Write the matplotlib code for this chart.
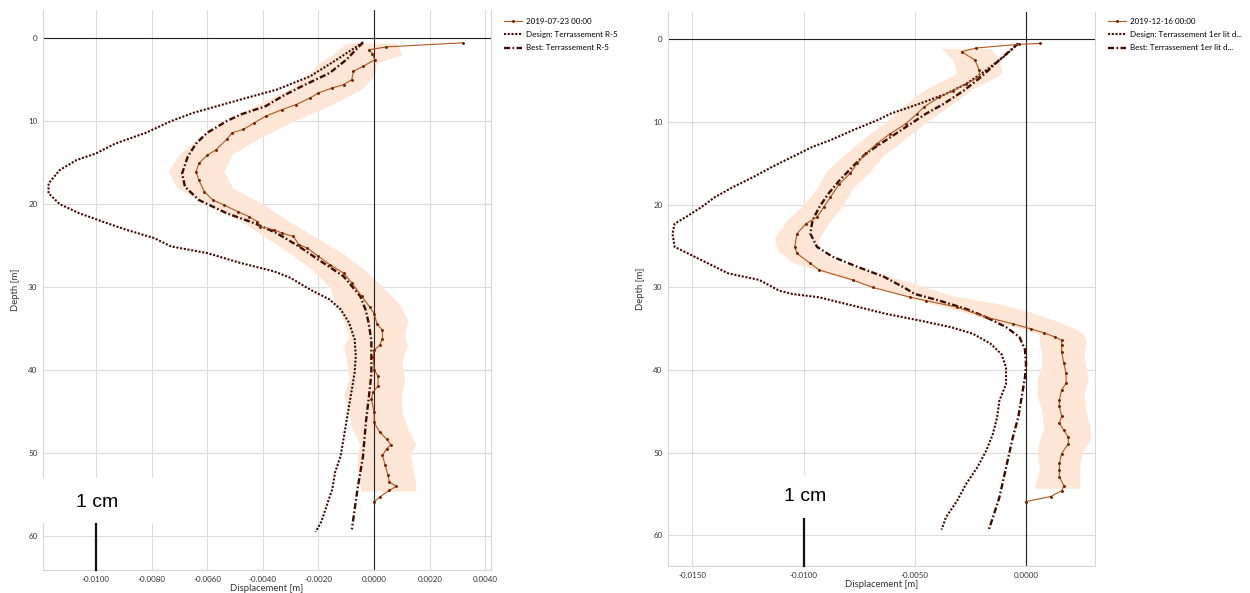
import numpy as np
import matplotlib.pyplot as plt
from matplotlib.patches import Rectangle

# ---- left panel data (depth in m, displacement in m) ----
L_meas_depth = [0.56, 1.05, 1.4, 1.9, 2.6, 3.4, 4.0, 5.0, 5.6, 6.0, 6.6, 7.2, 8.0, 8.6, 9.4,
                10.2, 11.0, 11.4, 12.2, 13.5, 14.1, 15.1, 16.1, 17.1, 18.5, 19.5, 20.1, 20.9,
                21.5, 22.1, 22.7, 23.1, 23.5, 23.9, 24.9, 25.3, 26.3, 27.3, 28.3, 29.5, 31.1,
                32.4, 33.2, 34.4, 35.2, 36.2, 37.0, 37.6, 38.4, 40.0, 40.7, 41.9, 42.7, 43.5,
                45.1, 46.3, 47.5, 48.3, 49.0, 49.5, 50.3, 51.5, 52.7, 53.5, 54.0, 54.5, 55.3, 55.9]
L_meas_disp = [0.0032, 0.00044, -0.00018, -0.00006, 0.00002, -0.0004, -0.00075, -0.0008, -0.0011,
               -0.0015, -0.0020, -0.0023, -0.0028, -0.0033, -0.0039, -0.0043, -0.0047, -0.0051,
               -0.0053, -0.0057, -0.0060, -0.0063, -0.0064, -0.0063, -0.0061, -0.0058, -0.0054,
               -0.0049, -0.0045, -0.0042, -0.0041, -0.0036, -0.0033, -0.0029, -0.0027, -0.0024,
               -0.0020, -0.0016, -0.0011, -0.0008, -0.00045, -0.00016, 0.0, 0.0001, 0.0003, 0.0003,
               0.0002, 0.0, -0.00004, 0.0, 0.00014, 0.00014, -0.00004, -0.0001, 0.0, 0.0, 0.0002,
               0.00045, 0.0006, 0.00045, 0.0003, 0.0004, 0.0005, 0.00055, 0.0008, 0.00055, 0.0002, 0.0]

L_design_depth = [0.5, 2.6, 4.6, 6.2, 7.4, 9.0, 10.0, 11.4, 12.7, 13.9, 14.7, 15.9, 17.5, 18.7,
                  20.0, 21.1, 22.3, 23.1, 24.1, 25.1, 25.9, 27.1, 28.1, 28.9, 30.3, 31.5, 32.7,
                  34.3, 36.3, 38.3, 40.3, 42.3, 44.3, 46.3, 48.3, 50.3, 52.3, 54.3, 56.3, 58.3, 59.5]
L_design_disp = [-0.0004, -0.00135, -0.0023, -0.0035, -0.0048, -0.0065, -0.0073, -0.0082, -0.0093,
                 -0.0100, -0.0107, -0.0113, -0.0117, -0.0117, -0.0113, -0.0106, -0.0096, -0.0089,
                 -0.0079, -0.0073, -0.0060, -0.0048, -0.0036, -0.0030, -0.0023, -0.0016, -0.0012,
                 -0.0009, -0.0007, -0.00066, -0.0007, -0.0008, -0.0009, -0.0010, -0.0011, -0.0012,
                 -0.0014, -0.0015, -0.0017, -0.0019, -0.0021]

L_best_depth = [0.5, 2.6, 4.2, 5.8, 7.0, 8.2, 9.2, 10.0, 11.4, 12.7, 14.3, 16.3, 17.9, 19.5, 21.1,
                22.3, 23.5, 25.1, 26.7, 28.7, 31.1, 32.8, 34.3, 36.4, 38.4, 40.4, 42.4, 46.4,
                50.4, 54.4, 59.2]
L_best_disp = [-0.0004, -0.0010, -0.0016, -0.0026, -0.0033, -0.0039, -0.0048, -0.0053, -0.0060,
               -0.0064, -0.0067, -0.0069, -0.0068, -0.0063, -0.0053, -0.0043, -0.0035, -0.0027,
               -0.0020, -0.0011, -0.0005, -0.0003, -0.0002, -0.0001, -0.0001, -0.0001, -0.00016,
               -0.0003, -0.0004, -0.0006, -0.0008]

L_band_depth = [0.6, 2.0, 3.0, 4.5, 6, 8, 10, 12, 14, 16, 18, 20, 22, 24, 26, 28, 30, 32, 34, 36,
                37, 39, 41, 43, 45, 47, 49, 50, 52, 54, 54.6]
L_band_lo = [-0.0010, -0.0015, -0.0020, -0.0024, -0.0030, -0.0042, -0.0053, -0.0063, -0.0070,
             -0.0074, -0.0071, -0.0060, -0.0048, -0.0039, -0.0030, -0.0022, -0.0016, -0.0014,
             -0.0011, -0.0009, -0.0011, -0.0010, -0.0009, -0.0011, -0.0009, -0.0008, -0.0005,
             -0.0006, -0.0006, -0.0005, -0.0005]
L_band_hi = [0.0008, 0.0010, 0.0001, 0.0000, -0.0004, -0.0015, -0.0029, -0.0041, -0.0051, -0.0054,
             -0.0051, -0.0040, -0.0031, -0.0021, -0.0011, -0.0003, 0.0003, 0.0009, 0.0012, 0.0011,
             0.0012, 0.0010, 0.0011, 0.0010, 0.0010, 0.0012, 0.0015, 0.0013, 0.0014, 0.0015, 0.0015]

# ---- right panel data ----
R_meas_depth = [0.5, 0.6, 1.05, 1.5, 2.5, 3.75, 4.5, 5.4, 6.2, 7.0, 8.2, 9.0, 10.2, 11.4, 12.6,
                13.8, 15.0, 16.2, 17.5, 19.1, 20.3, 21.5, 22.3, 23.5, 25.1, 25.9, 27.1, 27.9,
                29.1, 30.0, 31.2, 31.6, 32.4, 33.6, 34.4, 35.0, 35.5, 36.0, 36.4, 37.0, 37.8,
                39.2, 40.4, 41.6, 42.4, 43.6, 44.4, 45.6, 46.4, 47.3, 48.1, 48.9, 50.1, 51.3,
                52.1, 52.9, 54.0, 54.6, 55.3, 55.9]
R_meas_disp = [0.00063, -0.0003, -0.00225, -0.0029, -0.0023, -0.0021, -0.0021, -0.0027, -0.0033,
               -0.0039, -0.0046, -0.0049, -0.0054, -0.0061, -0.0067, -0.0072, -0.0076, -0.0079,
               -0.0084, -0.0088, -0.0091, -0.0094, -0.0099, -0.0103, -0.0104, -0.0103, -0.0097,
               -0.0093, -0.0078, -0.0069, -0.0052, -0.0045, -0.0031, -0.0018, -0.0006, 0.0002,
               0.0008, 0.0013, 0.0016, 0.0016, 0.0016, 0.0017, 0.0018, 0.0018, 0.0016, 0.0015,
               0.0015, 0.0016, 0.0015, 0.0017, 0.0019, 0.0019, 0.0016, 0.0015, 0.0015, 0.0015,
               0.0017, 0.0016, 0.0011, 0.0]

R_design_depth = [0.5, 2.1, 3.75, 5.4, 6.6, 7.8, 9.0, 9.8, 11.0, 12.2, 13.0, 14.2, 15.4, 16.7,
                  17.9, 19.1, 20.3, 21.5, 22.3, 23.5, 25.1, 25.9, 27.1, 28.3, 29.1, 30.4, 30.8,
                  31.2, 32.2, 33.2, 34.0, 34.8, 35.6, 36.8, 38.1, 39.7, 41.7, 43.7, 45.7, 47.8,
                  49.8, 51.8, 53.8, 55.8, 57.8, 59.3]
R_design_disp = [-0.00035, -0.0010, -0.0018, -0.0027, -0.0036, -0.0048, -0.0061, -0.0067, -0.0078,
                 -0.0088, -0.0096, -0.0105, -0.0114, -0.0123, -0.0132, -0.0140, -0.0146, -0.0153,
                 -0.0158, -0.0159, -0.0158, -0.0152, -0.0143, -0.0134, -0.0120, -0.0111, -0.0105,
                 -0.0093, -0.0078, -0.0063, -0.0048, -0.0034, -0.0024, -0.0016, -0.0011, -0.0009,
                 -0.0009, -0.0012, -0.0013, -0.0015, -0.0018, -0.0022, -0.0027, -0.0031, -0.0036,
                 -0.0038]

R_best_depth = [0.5, 2.5, 4.5, 6.2, 7.8, 9.0, 10.6, 12.2, 13.8, 15.4, 17.1, 18.7, 20.3, 21.9,
                23.5, 25.1, 26.3, 27.5, 28.7, 30.0, 30.8, 31.6, 32.6, 33.6, 34.8, 36.0, 37.5,
                39.3, 40.9, 43.3, 45.7, 48.2, 50.6, 53.0, 55.4, 57.9, 59.5]
R_best_disp = [-0.00035, -0.0012, -0.0020, -0.0028, -0.0037, -0.0045, -0.0054, -0.0063, -0.0072,
               -0.0078, -0.0084, -0.0089, -0.0093, -0.0096, -0.0097, -0.0094, -0.0087, -0.0076,
               -0.0064, -0.0055, -0.0050, -0.0039, -0.0027, -0.0018, -0.0009, -0.0003, -0.00005,
               0.0, -0.00005, -0.0002, -0.00035, -0.0006, -0.0008, -0.0010, -0.0012, -0.0015,
               -0.0017]

R_band_depth = [1.1, 2.5, 4.0, 4.5, 6, 8, 10, 12, 14, 16, 18, 20, 22, 24, 25.5, 27, 29, 31, 32,
                33, 34, 35, 35.7, 36.5, 38, 39.5, 41, 43, 45, 47, 48.5, 50, 52, 54, 54.3]
R_band_lo = [-0.0038, -0.0033, -0.0031, -0.0034, -0.0045, -0.0055, -0.0063, -0.0073, -0.0082,
             -0.0090, -0.0094, -0.0100, -0.0108, -0.0113, -0.0112, -0.0105, -0.0081, -0.0055,
             -0.0042, -0.0028, -0.0016, -0.0002, 0.0006, 0.0006, 0.0007, 0.0007, 0.0005, 0.0005,
             0.0007, 0.0008, 0.0006, 0.0005, 0.0006, 0.0004, 0.0004]
R_band_hi = [-0.0016, -0.0012, -0.0011, -0.0013, -0.0024, -0.0034, -0.0045, -0.0054, -0.0064,
             -0.0070, -0.0078, -0.0082, -0.0088, -0.0093, -0.0094, -0.0084, -0.0057, -0.0033,
             -0.0012, 0.0002, 0.0013, 0.0022, 0.0026, 0.0027, 0.0026, 0.0027, 0.0028, 0.0026,
             0.0027, 0.0029, 0.0029, 0.0025, 0.0024, 0.0024, 0.0024]

L_labels = ['2019-07-23 00:00', 'Design: Terrassement R-5', 'Best: Terrassement R-5']
R_labels = ['2019-12-16 00:00', 'Design: Terrassement 1er lit d...', 'Best: Terrassement 1er lit d...']
L_xticks = [-0.010, -0.008, -0.006, -0.004, -0.002, 0.0, 0.002, 0.004]
R_xticks = [-0.015, -0.010, -0.005, 0.0]
y_ticks = [0, 10, 20, 30, 40, 50, 60]

plt.rcParams['font.family'] = ['Lato', 'DejaVu Sans']

meas_c = '#b0561f'
dark_c = '#3f0b00'
band_c = '#fde6d6'

fig = plt.figure(figsize=(12.5, 5.93), dpi=100)


def panel(rect, meas, design, best, band, labels, xticks, xlim, ylim, leg_xy, bar_top):
    ax = fig.add_axes(rect)
    ax.fill_betweenx(band[0], band[1], band[2], color=band_c, lw=0, zorder=1)
    ax.axhline(0, color='#222222', lw=0.8, zorder=2)
    ax.axvline(0, color='#222222', lw=0.8, zorder=2)
    l1, = ax.plot(meas[1], meas[0], color=meas_c, lw=0.8, marker='o', ms=1.1,
                  mfc='#6e2200', mec='#6e2200', zorder=4)
    l2, = ax.plot(design[1], design[0], color=dark_c, lw=1.5, linestyle=(0, (1, 0.8)),
                  zorder=3)
    l3, = ax.plot(best[1], best[0], color=dark_c, lw=1.7, linestyle=(0, (2.6, 1.0, 0.7, 1.0)),
                  zorder=3)
    # "1 cm" scale bar
    ax.plot([-0.01, -0.01], [bar_top, ylim[0]], color='#111111', lw=1.6, clip_on=False,
            zorder=6)
    ax.set_xlim(xlim)
    ax.set_ylim(ylim)
    ax.set_xticks(xticks)
    ax.set_xticklabels(['%.4f' % v for v in xticks])
    ax.set_yticks(y_ticks)
    ax.grid(True, color='#dcdcdc', lw=0.8)
    ax.set_axisbelow(True)
    ax.tick_params(length=0, labelsize=5.8, colors='#333333', pad=4)
    for s in ['left', 'bottom', 'right']:
        ax.spines[s].set_color('#d6d6d6')
    ax.spines['top'].set_visible(False)
    ax.set_xlabel('Displacement [m]', fontsize=6.8, color='#333333', labelpad=1)
    ax.set_ylabel('Depth [m]', fontsize=6.8, color='#333333', labelpad=6)
    ax.legend([l1, l2, l3], labels, loc='upper left', bbox_to_anchor=leg_xy,
              bbox_transform=fig.transFigure, frameon=False, fontsize=5.8,
              handlelength=2.2, handletextpad=0.5, labelspacing=0.75, borderpad=0)
    return ax


panel([0.0344, 0.0388, 0.3584, 0.9444],
      (L_meas_depth, L_meas_disp), (L_design_depth, L_design_disp),
      (L_best_depth, L_best_disp), (L_band_depth, L_band_lo, L_band_hi),
      L_labels, L_xticks, (-0.0119, 0.0042), (64.1, -3.4), (0.4, 0.976), 58.4)

panel([0.5344, 0.0455, 0.3416, 0.9342],
      (R_meas_depth, R_meas_disp), (R_design_depth, R_design_disp),
      (R_best_depth, R_best_disp), (R_band_depth, R_band_lo, R_band_hi),
      R_labels, R_xticks, (-0.0161, 0.0031), (63.7, -3.3), (0.883, 0.976), 57.9)

# white boxes behind the "1 cm" labels
fig.add_artist(Rectangle((0.016, 0.118), 0.12, 0.076, transform=fig.transFigure,
                         facecolor='white', edgecolor='none', zorder=5))
fig.add_artist(Rectangle((0.622, 0.126), 0.045, 0.073, transform=fig.transFigure,
                         facecolor='white', edgecolor='none', zorder=5))
fig.text(0.0776, 0.152, '1 cm', fontsize=14, family='Liberation Sans', ha='center',
         va='center', zorder=6)
fig.text(0.644, 0.162, '1 cm', fontsize=14, family='Liberation Sans', ha='center',
         va='center', zorder=6)

fig.savefig('out.png', dpi=100, facecolor='white')
